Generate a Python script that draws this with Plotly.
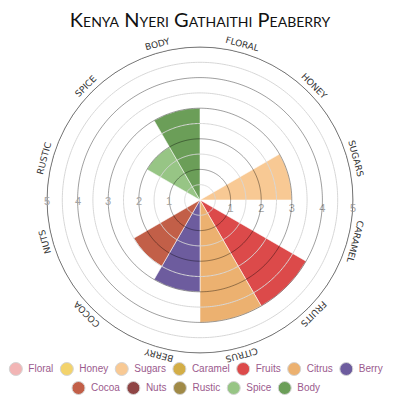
import numpy as np
import plotly.graph_objects as go

# ---- data ----
categories = ["Floral", "Honey", "Sugars", "Caramel", "Fruits", "Citrus",
              "Berry", "Cocoa", "Nuts", "Rustic", "Spice", "Body"]
values = [0, 0, 3, 0, 4, 4, 3, 2.5, 0, 0, 2, 3]
colors = ["#f2b5b5", "#f3d36c", "#f8c994", "#d3ae47", "#dc4a4a", "#ecb170",
          "#6d5c9e", "#c25f48", "#8f4545", "#a08a47", "#97c585", "#6b9e58"]
radial_ticks = [1, 2, 3, 4, 5]
radial_ticktext = ["1", "2", "3", "4", "5"]
ring_levels = [0.5, 1, 1.5, 2, 2.5, 3, 3.5, 4, 4.5, 5]
title_text = "Kenya Nyeri Gathaithi Peaberry"

# ---- layout constants ----
W = H = 400
CX, CY = 200, 200          # polar centre in px
R_PX = 153                 # outer radius in px
R_MAX = 5
LABEL_R = 161              # radius of angular labels
dom = [(CX - R_PX) / W, (CX + R_PX) / W]

fig = go.Figure()

# bars
for cat, val, col in zip(categories, values, colors):
    fig.add_trace(go.Barpolar(
        r=[val], theta=[cat], name=cat, subplot="polar",
        marker=dict(color=col, line=dict(color="rgba(255,255,255,0.55)", width=1)),
        showlegend=False, hoverinfo="name+r"))

# grid rings drawn above the bars (overlay polar)
theta_circle = np.linspace(0, 360, 361)
for lv in ring_levels:
    is_int = float(lv).is_integer()
    fig.add_trace(go.Scatterpolar(
        r=np.full(theta_circle.shape, lv), theta=theta_circle, mode="lines",
        subplot="polar2", hoverinfo="skip", showlegend=False,
        line=dict(color="rgba(0,0,0,0.38)" if is_int else "rgba(215,215,215,1)",
                  width=1)))

# ---- custom two-row legend (pixel-space cartesian overlay) ----
AW = {'F': 611, 'l': 222, 'o': 556, 'r': 333, 'a': 556, 'H': 722, 'n': 556,
      'e': 556, 'y': 500, 'S': 667, 'u': 556, 'g': 556, 's': 500, 'C': 722,
      'm': 833, 'i': 222, 't': 278, 'B': 667, 'c': 500, 'N': 722, 'R': 722,
      'p': 556, 'd': 556}
LEG_FS = 10


def text_w(s):
    return sum(AW.get(ch, 556) for ch in s) * LEG_FS / 1000.0


rows = [list(range(0, 7)), list(range(7, 12))]
row_y = [369, 388]
LEG_CX = 196
MARK = 13
GAP_TXT = 6
GAP_ITEM = 7
mx, my, mc, tx, ty, tt = [], [], [], [], [], []
for idxs, yy in zip(rows, row_y):
    widths = [MARK + GAP_TXT + text_w(categories[i]) for i in idxs]
    total = sum(widths) + GAP_ITEM * (len(idxs) - 1)
    x0 = LEG_CX - total / 2
    for i, w in zip(idxs, widths):
        mx.append(x0 + MARK / 2)
        my.append(yy)
        mc.append(colors[i])
        tx.append(x0 + MARK + GAP_TXT)
        ty.append(yy)
        tt.append(categories[i])
        x0 += w + GAP_ITEM

fig.add_trace(go.Scatter(
    x=mx, y=my, mode="markers",
    marker=dict(size=MARK, color=mc, line=dict(color="#d4d4d4", width=1)),
    hoverinfo="skip", showlegend=False, xaxis="x", yaxis="y"))
fig.add_trace(go.Scatter(
    x=tx, y=ty, text=tt, mode="text", textposition="middle right",
    textfont=dict(family="Liberation Sans, Arial", size=LEG_FS, color="#9b5a8d"),
    hoverinfo="skip", showlegend=False, xaxis="x", yaxis="y"))

# ---- annotations: angular labels and left radial labels ----
annotations = []
n = len(categories)
for i, cat in enumerate(categories):
    phi = 90 - (i + 0.5) * 360 / n          # math angle of sector centre
    ang = 90 - phi
    ang = (ang + 180) % 360 - 180
    x = CX + LABEL_R * np.cos(np.radians(phi))
    y = CY - LABEL_R * np.sin(np.radians(phi))
    annotations.append(dict(
        x=x, y=y, xref="x", yref="y", text=cat.upper(), showarrow=False,
        textangle=ang, xanchor="center", yanchor="middle",
        font=dict(family="DejaVu Sans", size=9, color="#333333")))

for v, t in zip(radial_ticks, radial_ticktext):
    annotations.append(dict(
        x=CX - v * R_PX / R_MAX, y=CY + 1, xref="x", yref="y", text=t,
        showarrow=False, xanchor="center", yanchor="middle",
        font=dict(family="Liberation Sans, Arial", size=11, color="#a3a3a3")))

fig.update_layout(
    width=W, height=H,
    margin=dict(l=0, r=0, t=0, b=0),
    paper_bgcolor="white", plot_bgcolor="rgba(0,0,0,0)",
    title=dict(text=title_text, x=0.5, xanchor="center", y=0.95, yanchor="middle",
               font=dict(family="Lato", size=20, color="#111111", variant="small-caps")),
    polar=dict(
        domain=dict(x=dom, y=dom),
        bgcolor="rgba(0,0,0,0)",
        angularaxis=dict(type="category", categoryarray=categories,
                         rotation=90 - 180 / n, direction="clockwise",
                         showticklabels=False, ticks="", showgrid=False,
                         showline=True, linecolor="#8c8c8c", linewidth=1),
        radialaxis=dict(range=[0, R_MAX], tickvals=radial_ticks,
                        ticktext=radial_ticktext, angle=0, ticks="",
                        showgrid=False, showline=False,
                        tickfont=dict(family="Liberation Sans, Arial", size=11,
                                      color="#a3a3a3")),
        bargap=0,
    ),
    polar2=dict(
        domain=dict(x=dom, y=dom),
        bgcolor="rgba(0,0,0,0)",
        angularaxis=dict(visible=False),
        radialaxis=dict(visible=False, range=[0, R_MAX]),
    ),
    xaxis=dict(range=[0, W], visible=False, domain=[0, 1], fixedrange=True),
    yaxis=dict(range=[H, 0], visible=False, domain=[0, 1], fixedrange=True),
    annotations=annotations,
    showlegend=False,
)

fig.write_html("out.html")
